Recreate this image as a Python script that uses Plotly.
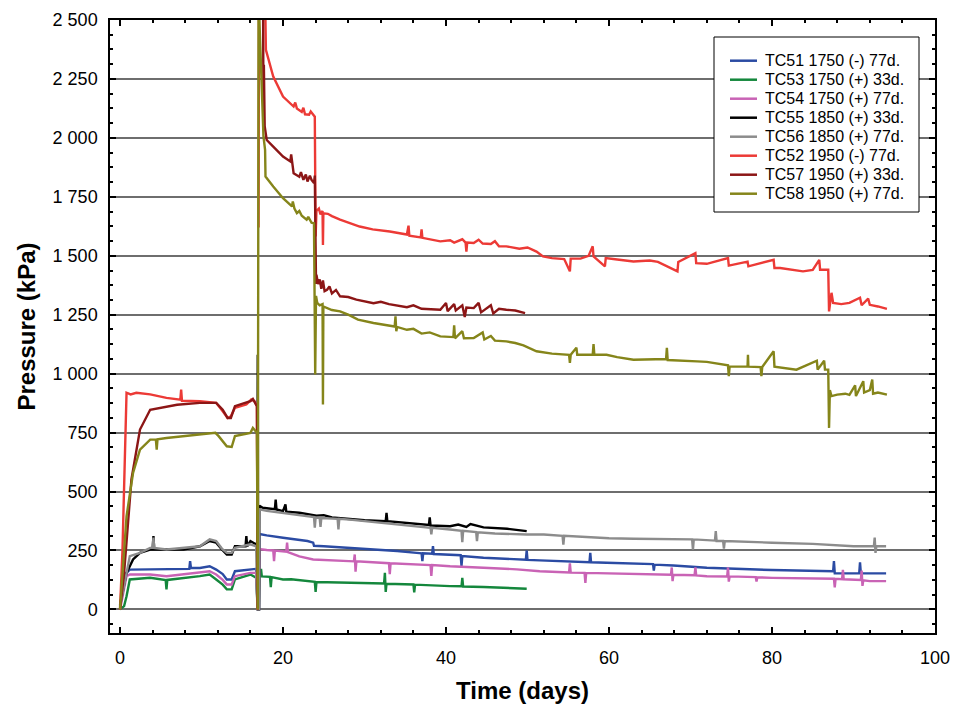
import plotly.graph_objects as go

# ---------------- data ----------------
y_tick_vals = [0, 250, 500, 750, 1000, 1250, 1500, 1750, 2000, 2250, 2500]
y_tick_text = ["0", "250", "500", "750", "1 000", "1 250", "1 500", "1 750", "2 000", "2 250", "2 500"]
x_tick_vals = [0, 20, 40, 60, 80, 100]

names = ["TC51 1750 (-) 77d.", "TC53 1750 (+) 33d.", "TC54 1750 (+) 77d.",
         "TC55 1850 (+) 33d.", "TC56 1850 (+) 77d.", "TC52 1950 (-) 77d.",
         "TC57 1950 (+) 33d.", "TC58 1950 (+) 77d."]

# TC51 1750 (-) 77d.
tc51_pts = [(0, 14), (0.8, 155), (1.2, 169), (3.7, 169), (5.7, 169), (8.5, 172), (8.6, 205), (8.7, 176),
            (9.8, 176), (11.0, 183), (11.8, 169), (12.6, 150), (13.1, 127), (13.7, 127), (14.1, 162),
            (16.0, 169), (16.7, 172), (16.9, 0), (17.05, 0), (17.1, 320), (18.0, 314), (20.0, 304),
            (21.0, 300), (23.0, 290), (23.7, 283), (23.8, 270), (25.0, 268), (28.2, 261), (30.0, 258),
            (32.3, 251), (34.0, 248), (36.4, 240), (37.0, 238), (37.1, 205), (37.2, 238), (38.3, 236),
            (38.4, 268), (38.5, 235), (40.5, 233), (41.8, 230), (41.9, 185), (42.0, 226), (44.6, 219),
            (48.0, 214), (49.8, 211), (49.9, 250), (50.0, 210), (51.5, 208), (57.6, 200), (57.7, 240),
            (57.8, 200), (59.7, 198), (65.4, 192), (65.5, 165), (65.6, 190), (67.9, 186), (72.0, 177),
            (80.0, 167), (85.0, 165), (87.5, 162), (87.6, 205), (87.7, 153), (90.7, 153), (90.8, 200),
            (90.9, 153), (94.0, 153)]

# TC53 1750 (+) 33d.
tc53_pts = [(0, 0), (0.5, 14), (0.8, 56), (1.2, 127), (3.7, 134), (5.6, 125), (5.7, 85), (5.8, 125),
            (9.8, 141), (11.0, 148), (11.8, 127), (12.6, 105), (13.1, 85), (13.7, 85), (14.1, 127),
            (16.0, 148), (16.7, 134), (16.9, 0), (17.05, 0), (17.1, 145), (17.2, 141), (17.3, 172),
            (17.4, 140), (18.4, 138), (18.5, 95), (18.6, 137), (20.0, 127), (21.0, 128), (23.9, 117),
            (24.0, 74), (24.1, 116), (28.2, 113), (32.4, 110), (32.5, 155), (32.6, 74), (32.7, 109),
            (36.0, 106), (36.1, 72), (36.2, 105), (40.5, 99), (41.9, 98), (42.0, 134), (42.1, 97),
            (44.6, 95), (49.9, 88)]

# TC54 1750 (+) 77d.
tc54_pts = [(0, 0), (0.8, 141), (1.2, 148), (3.7, 148), (5.7, 141), (9.8, 155), (11.0, 162), (11.8, 148),
            (12.6, 125), (13.1, 106), (13.7, 106), (14.1, 141), (16.0, 155), (16.7, 155), (16.9, 0),
            (17.05, 0), (17.1, 256), (18.0, 252), (18.8, 250), (18.9, 205), (19.0, 250), (20.4, 245),
            (20.5, 283), (20.6, 243), (22.0, 225), (23.7, 212), (28.2, 205), (28.7, 204), (28.8, 233),
            (28.9, 160), (29.0, 204), (32.3, 198), (33.0, 196), (33.1, 150), (33.2, 196), (38.1, 188),
            (38.2, 142), (38.3, 188), (40.5, 183), (44.6, 177), (48.7, 170), (51.5, 162), (55.1, 157),
            (55.2, 195), (55.3, 156), (57.0, 155), (57.1, 113), (57.2, 155), (65.4, 148), (67.6, 147),
            (67.7, 178), (67.8, 120), (67.9, 147), (70.5, 145), (70.6, 178), (70.7, 144), (72.0, 141),
            (74.5, 140), (74.6, 178), (74.7, 118), (74.8, 140), (78.0, 137), (78.1, 118), (78.2, 136),
            (80.0, 134), (87.0, 130), (87.6, 130), (87.7, 93), (87.8, 130), (88.6, 128), (88.7, 168),
            (88.8, 128), (90.9, 125), (91.0, 165), (91.1, 100), (91.2, 123), (92.0, 120), (94.0, 120)]

# TC55 1850 (+) 33d.
tc55_pts = [(0, 20), (0.8, 155), (1.6, 212), (2.45, 240), (3.7, 254), (4.0, 254), (4.1, 311), (4.2, 254),
            (7.8, 254), (9.8, 268), (11.0, 290), (11.8, 283), (12.5, 254), (13.1, 233), (13.7, 233),
            (14.1, 268), (15.4, 268), (15.5, 311), (15.6, 268), (16.0, 290), (16.7, 276), (16.85, 276),
            (16.9, 1080), (16.95, 0), (17.05, 0), (17.1, 440), (17.5, 431), (19.0, 425), (19.1, 466),
            (19.2, 424), (20.0, 417), (20.3, 445), (20.4, 415), (22.0, 410), (24.1, 398), (25.0, 400),
            (26.0, 390), (28.2, 383), (30.0, 378), (32.6, 374), (32.7, 410), (32.8, 374), (34.0, 370),
            (36.4, 362), (37.9, 358), (38.0, 390), (38.1, 356), (40.5, 353), (41.5, 360), (42.5, 350),
            (43.0, 362), (44.6, 348), (46.0, 345), (47.5, 342), (49.9, 332)]

# TC56 1850 (+) 77d.
tc56_pts = [(0, 10), (0.8, 150), (1.2, 226), (2.45, 240), (3.7, 261), (4.0, 261), (4.1, 305), (4.2, 261),
            (5.7, 254), (9.8, 268), (11.0, 297), (11.8, 290), (12.5, 258), (13.1, 240), (13.7, 240),
            (14.1, 261), (16.0, 276), (16.7, 268), (16.85, 0), (17.05, 0), (17.1, 425), (18.0, 418),
            (20.0, 410), (22.0, 400), (23.8, 392), (23.9, 347), (24.0, 390), (24.5, 388), (24.6, 350),
            (24.7, 388), (26.7, 384), (26.8, 339), (26.9, 384), (28.2, 381), (32.3, 367), (36.4, 353),
            (38.1, 346), (38.2, 318), (38.3, 346), (40.5, 339), (41.9, 333), (42.0, 285), (42.1, 333),
            (43.7, 328), (43.8, 290), (43.9, 327), (46.0, 322), (49.9, 318), (52.0, 318), (54.3, 312),
            (54.4, 275), (54.5, 312), (58.0, 304), (60.0, 302), (63.0, 300), (67.0, 298), (70.2, 297),
            (70.3, 254), (70.4, 297), (73.0, 292), (73.1, 332), (73.2, 290), (74.0, 290), (74.1, 258),
            (74.2, 290), (80.0, 283), (85.0, 278), (90.0, 268), (92.5, 268), (92.6, 305), (92.7, 240),
            (92.8, 268), (94.0, 268)]

# TC52 1950 (-) 77d.   (None = logger gap, line not drawn)
tc52_pts = [(0, 0), (0.3, 250), (0.8, 919), (1.3, 912), (2.0, 919), (3.7, 912), (5.7, 897), (7.4, 890),
            (7.5, 932), (7.6, 885), (9.8, 883), (11.8, 876), (12.6, 840), (13.2, 812), (13.6, 819),
            (14.1, 855), (15.5, 869), (16.1, 890), (16.5, 883), (16.8, 862), (16.9, 0), (16.95, None),
            (17.0, 1620), (17.05, 2600), (17.8, 2600), (17.9, 2373), (18.8, 2260), (20.0, 2175),
            (21.3, 2133), (21.5, 2150), (21.7, 2125), (22.3, 2110), (22.5, 2128), (22.7, 2100),
            (23.2, 2098), (23.4, 2112), (23.9, 2090), (24.0, 1582), (24.1, 1690), (24.4, 1700),
            (24.6, 1675), (24.85, 1690), (24.9, 1546), (24.95, 1680), (25.5, 1678), (26.0, 1668),
            (27.0, 1653), (28.0, 1640), (29.4, 1624), (31.0, 1612), (33.1, 1603), (35.2, 1590),
            (35.4, 1628), (35.5, 1585), (36.9, 1578), (37.0, 1612), (37.1, 1576), (39.3, 1561),
            (40.5, 1566), (41.0, 1556), (42.0, 1570), (42.4, 1556), (42.5, 1518), (42.6, 1556),
            (43.4, 1554), (44.0, 1568), (44.5, 1552), (45.5, 1550), (46.0, 1562), (46.5, 1540),
            (47.4, 1540), (49.0, 1530), (50.0, 1535), (51.1, 1518), (51.9, 1497), (53.0, 1490),
            (54.5, 1486), (55.2, 1434), (55.3, 1488), (56.5, 1488), (57.5, 1500), (58.0, 1540),
            (58.1, 1497), (59.5, 1455), (59.6, 1490), (61.0, 1484), (63.0, 1476), (65.0, 1480),
            (66.0, 1474), (68.4, 1434), (68.5, 1474), (70.6, 1511), (70.7, 1469), (72.0, 1466),
            (74.6, 1490), (74.7, 1458), (77.0, 1475), (77.1, 1455), (80.2, 1483), (80.3, 1448),
            (81.0, 1448), (83.8, 1434), (85.0, 1440), (85.8, 1483), (85.9, 1441), (86.9, 1441),
            (87.0, 1264), (87.3, 1343), (87.5, 1300), (88.5, 1295), (89.5, 1300), (90.8, 1322),
            (91.0, 1290), (91.8, 1318), (92.0, 1292), (93.0, 1285), (94.1, 1275)]

# TC57 1950 (+) 33d.
tc57_pts = [(0, 0), (0.5, 155), (1.4, 551), (2.0, 678), (2.45, 763), (3.7, 847), (5.7, 861), (7.0, 868),
            (9.8, 876), (11.8, 876), (12.6, 847), (13.2, 812), (13.6, 812), (14.1, 862), (16.0, 883),
            (16.3, 893), (16.8, 862), (16.9, 0), (17.0, None), (17.5, 2600), (17.55, 2600), (17.6, 2090),
            (17.65, 2310), (17.75, 2050), (18.0, 1991), (18.8, 1963), (20.0, 1921), (20.9, 1900),
            (21.0, 1930), (21.3, 1850), (22.0, 1835), (22.2, 1855), (22.5, 1822), (22.8, 1845),
            (23.0, 1815), (23.3, 1840), (23.5, 1822), (23.8, 1808), (23.9, 1840), (24.05, 1380),
            (24.1, 1420), (24.3, 1380), (24.5, 1400), (24.7, 1360), (24.9, 1395), (25.1, 1350),
            (25.4, 1356), (25.7, 1370), (26.0, 1340), (26.5, 1355), (27.0, 1328), (28.0, 1325),
            (29.0, 1314), (31.1, 1299), (32.0, 1305), (33.0, 1295), (35.2, 1282), (36.0, 1290),
            (37.0, 1275), (39.3, 1271), (40.0, 1300), (40.2, 1265), (41.0, 1295), (41.2, 1268),
            (42.0, 1290), (42.3, 1240), (42.5, 1280), (43.4, 1278), (44.0, 1300), (44.3, 1260),
            (45.5, 1290), (45.8, 1255), (46.5, 1275), (47.4, 1271), (48.5, 1268), (49.7, 1257)]

# TC58 1950 (+) 77d.
tc58_pts = [(0, 0), (0.5, 226), (0.8, 395), (1.6, 579), (2.45, 678), (3.7, 720), (4.4, 720), (4.5, 678),
            (4.6, 722), (5.7, 727), (9.8, 741), (11.7, 749), (12.1, 735), (13.1, 692), (13.7, 689),
            (14.1, 735), (16.0, 749), (16.3, 770), (16.8, 749), (16.9, 0), (17.0, 2600), (17.2, 2400),
            (17.4, 2119), (17.6, 2006), (17.8, 1949), (17.85, 1836), (18.8, 1794), (20.0, 1744),
            (21.1, 1709), (21.2, 1730), (21.4, 1700), (21.7, 1681), (22.0, 1690), (22.3, 1670),
            (22.9, 1653), (23.1, 1665), (23.5, 1640), (23.8, 1638), (23.95, 996), (24.05, 1330),
            (24.2, 1300), (24.5, 1290), (24.85, 1295), (24.9, 869), (24.95, 1285), (25.4, 1278),
            (26.0, 1270), (27.0, 1264), (28.0, 1250), (29.2, 1229), (31.1, 1215), (33.7, 1200),
            (33.8, 1243), (33.9, 1180), (34.0, 1198), (35.2, 1186), (36.0, 1190), (37.0, 1170),
            (38.0, 1175), (39.3, 1158), (40.9, 1155), (41.0, 1205), (41.1, 1150), (42.0, 1180),
            (42.2, 1150), (43.4, 1151), (44.5, 1175), (44.7, 1145), (45.5, 1160), (46.0, 1140),
            (47.4, 1137), (48.5, 1130), (49.5, 1120), (51.1, 1095), (53.0, 1085), (55.1, 1080),
            (55.2, 1046), (55.3, 1080), (56.0, 1110), (56.1, 1080), (58.0, 1080), (58.1, 1125),
            (58.2, 1080), (59.7, 1080), (61.0, 1070), (63.0, 1059), (66.0, 1060), (67.0, 1062),
            (67.1, 1110), (67.2, 1058), (70.8, 1052), (72.0, 1050), (74.6, 1035), (74.7, 989),
            (74.8, 1031), (77.0, 1030), (77.05, 1080), (77.1, 1030), (78.6, 1028), (78.7, 989),
            (78.8, 1028), (80.2, 1095), (80.3, 1030), (82.0, 1020), (83.0, 1017), (85.5, 1055),
            (85.6, 1017), (86.4, 1055), (86.5, 1017), (86.9, 1017), (87.0, 770), (87.1, 930),
            (87.3, 905), (88.0, 911), (89.0, 915), (89.5, 910), (90.2, 950), (90.3, 905), (91.2, 968),
            (91.3, 920), (92.0, 930), (92.3, 975), (92.4, 915), (93.0, 920), (94.1, 911)]

series_pts = [tc51_pts, tc53_pts, tc54_pts, tc55_pts, tc56_pts, tc52_pts, tc57_pts, tc58_pts]
colors = ["#2B4BA3", "#14873C", "#C963B5", "#000000", "#8C8C8C", "#EC3A36", "#8C1616", "#85851A"]

# ---------------- figure ----------------
W, H = 954, 704
ML, MR, MT, MB = 110, 19, 20, 71
PW, PH = W - ML - MR, H - MT - MB


def px_x(px):
    return (px - ML) / PW


def px_y(py):
    return (H - MB - py) / PH


fig = go.Figure()
for name, pts, col in zip(names, series_pts, colors):
    fig.add_trace(go.Scatter(
        x=[p[0] for p in pts], y=[p[1] for p in pts], mode="lines", name=name,
        line=dict(color=col, width=2.4), connectgaps=False, showlegend=False))

font_family = "Liberation Sans, Arial, sans-serif"

# legend box drawn in the chart's own style
shapes = [dict(type="rect", xref="paper", yref="paper",
               x0=px_x(714), x1=px_x(919), y0=px_y(212), y1=px_y(37),
               line=dict(color="black", width=1), fillcolor="white", layer="above")]
annotations = []
for i, (name, col) in enumerate(zip(names, colors)):
    yc = 60.7 + 19.0 * i
    shapes.append(dict(type="line", xref="paper", yref="paper",
                       x0=px_x(730), x1=px_x(757), y0=px_y(yc), y1=px_y(yc),
                       line=dict(color=col, width=2.5), layer="above"))
    annotations.append(dict(xref="paper", yref="paper", x=px_x(763), y=px_y(yc),
                            xanchor="left", yanchor="middle", text=name, showarrow=False,
                            font=dict(size=16, family=font_family, color="black")))

fig.update_layout(
    width=W, height=H,
    margin=dict(l=ML, r=MR, t=MT, b=MB),
    plot_bgcolor="white", paper_bgcolor="white",
    font=dict(family=font_family, color="black"),
    showlegend=False, shapes=shapes, annotations=annotations,
)
fig.update_xaxes(
    range=[-1.23, 100], tickvals=x_tick_vals, ticks="inside", ticklen=6, tickwidth=1.5,
    tickcolor="black", minor=dict(dtick=4, tick0=0, ticks="inside", ticklen=3, tickcolor="black"),
    showline=True, linecolor="black", linewidth=1.5, mirror="ticks",
    showgrid=False, zeroline=False, tickfont=dict(size=18), ticklabelstandoff=8,
    automargin=False,
    title=dict(text="Time (days)", font=dict(size=24, weight="bold"), standoff=15),
)
fig.update_yaxes(
    range=[-100, 2500], tickvals=y_tick_vals, ticktext=y_tick_text, ticks="inside", ticklen=6,
    tickwidth=1.5, tickcolor="black",
    minor=dict(dtick=62.5, tick0=0, ticks="inside", ticklen=3, tickcolor="black", showgrid=False),
    showline=True, linecolor="black", linewidth=1.5, mirror="ticks",
    showgrid=True, gridcolor="#6E6E6E", gridwidth=1.5, zeroline=False, tickfont=dict(size=18),
    ticklabelstandoff=7, automargin=False,
    title=dict(text="Pressure (kPa)", font=dict(size=24, weight="bold"), standoff=10),
)

fig.write_html("out.html", config={"displayModeBar": False},
               post_script="document.body.style.margin='0px';document.body.style.overflow='hidden';")
